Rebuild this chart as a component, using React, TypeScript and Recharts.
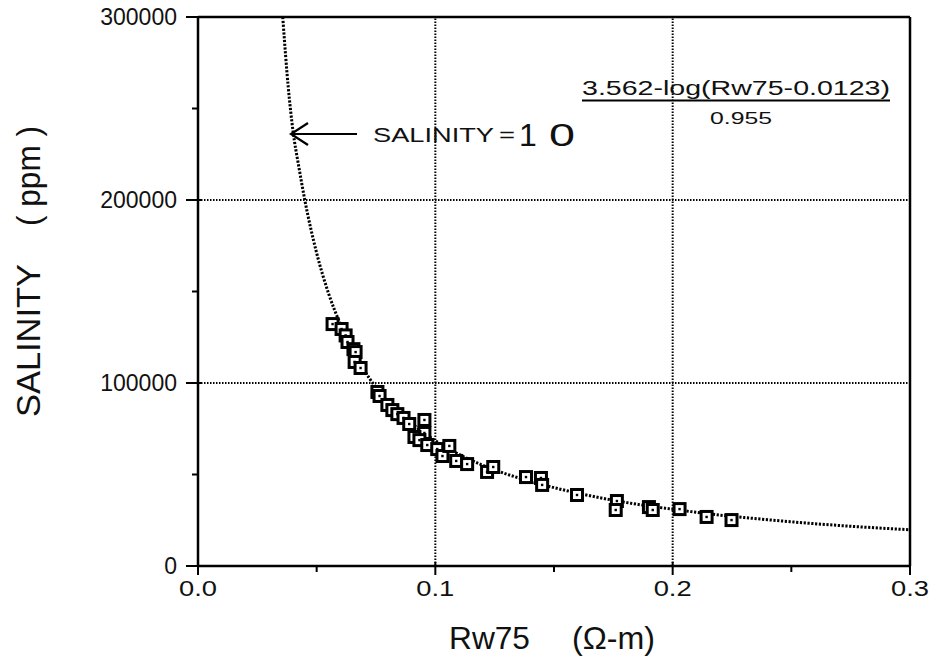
import React from "react";
import {
  ScatterChart,
  Scatter,
  XAxis,
  YAxis,
  ReferenceLine,
} from "recharts";

// Fitted curve (Rw75, salinity ppm)
const curveRw = [0.0357, 0.038, 0.04, 0.0425, 0.045, 0.05, 0.055, 0.06, 0.065, 0.07, 0.075, 0.08, 0.09, 0.1, 0.11, 0.12, 0.14, 0.16, 0.18, 0.2, 0.22, 0.24, 0.26, 0.28, 0.3];
const curveSal = [300000, 262000, 238000, 218000, 200000, 171000, 149000, 132000, 118000, 107000, 97500, 90000, 78000, 68500, 61000, 55000, 46300, 39800, 34800, 31000, 27800, 25300, 23100, 21300, 19800];

// Measured samples (Rw75, salinity ppm)
const sampleRw = [0.0567, 0.0605, 0.0622, 0.063, 0.0655, 0.0664, 0.066, 0.0685, 0.0756, 0.0765, 0.0798, 0.0819, 0.084, 0.0866, 0.089, 0.0954, 0.0954, 0.0912, 0.0933, 0.0966, 0.1008, 0.103, 0.1059, 0.1088, 0.1134, 0.1218, 0.1244, 0.1382, 0.1445, 0.145, 0.1597, 0.1765, 0.176, 0.19, 0.1916, 0.2029, 0.2143, 0.2248];
const sampleSal = [132200, 129500, 126000, 122400, 118500, 116900, 111500, 108200, 95100, 92900, 88000, 85200, 83000, 80900, 77600, 79800, 72700, 70500, 68800, 66100, 63900, 60100, 65600, 57400, 55700, 51400, 54100, 48600, 48100, 44300, 38800, 35500, 30600, 32200, 30600, 31100, 26800, 25100];

const xTicks = [0, 0.05, 0.1, 0.15, 0.2, 0.25, 0.3];
const yTicks = [0, 50000, 100000, 150000, 200000, 250000, 300000];
const gridX = [0.1, 0.2];
const gridY = [100000, 200000];

const curveData = curveRw.map((x, i) => ({ x, y: curveSal[i] }));
const sampleData = sampleRw.map((x, i) => ({ x, y: sampleSal[i] }));

const FONT = "'Liberation Sans', Arial, Helvetica, sans-serif";
const INK = "#111";

const isMajorX = (v: number) => Math.abs(v * 10 - Math.round(v * 10)) < 1e-6;
const isMajorY = (v: number) => v % 100000 === 0;

const XTick = (props: any) => {
  const { x, y, payload } = props;
  const v = payload.value;
  if (!isMajorX(v)) {
    return <line x1={x} x2={x} y1={y} y2={y + 6} stroke="#000" strokeWidth={2} />;
  }
  return (
    <g>
      <line x1={x} x2={x} y1={y - 4} y2={y + 9} stroke="#000" strokeWidth={2} />
      <text
        x={x - 19}
        y={y + 30}
        fontSize={22}
        fontFamily={FONT}
        fill={INK}
        textLength={38}
        lengthAdjust="spacingAndGlyphs"
      >
        {v.toFixed(1)}
      </text>
    </g>
  );
};

const YTick = (props: any) => {
  const { x, y, payload } = props;
  const v = payload.value;
  if (!isMajorY(v)) {
    return <line x1={x - 6} x2={x} y1={y} y2={y} stroke="#000" strokeWidth={2} />;
  }
  return (
    <g>
      <line x1={x - 12} x2={x + 4} y1={y} y2={y} stroke="#000" strokeWidth={2} />
      <text x={x - 21} y={y + 8} textAnchor="end" fontSize={23} fontFamily={FONT} fill={INK}>
        {String(v)}
      </text>
    </g>
  );
};

const SquareMarker = (props: any) => {
  const { cx, cy } = props;
  if (cx == null || cy == null) return null;
  return (
    <g>
      <rect x={cx - 5.5} y={cy - 5.5} width={11} height={11} fill="#fff" stroke="#000" strokeWidth={3} />
      <rect x={cx - 1.2} y={cy - 1.2} width={2.4} height={2.4} fill="#000" />
    </g>
  );
};

const NoMarker = () => <g />;

export default function App() {
  return (
    <div style={{ position: "absolute", left: 0, top: 0, width: 933, height: 669, background: "#fff" }}>
      <ScatterChart
        width={933}
        height={669}
        margin={{ top: 17, right: 23, bottom: 0, left: 0 }}
      >
        <XAxis
          type="number"
          dataKey="x"
          domain={[0, 0.3]}
          ticks={xTicks}
          interval={0}
          height={103}
          tickSize={0}
          tickMargin={0}
          tickLine={false}
          axisLine={{ stroke: "#000", strokeWidth: 2.5 }}
          tick={<XTick />}
          allowDataOverflow
        />
        <YAxis
          type="number"
          dataKey="y"
          domain={[0, 300000]}
          ticks={yTicks}
          interval={0}
          width={198}
          tickSize={0}
          tickMargin={0}
          tickLine={false}
          axisLine={{ stroke: "#000", strokeWidth: 2.5 }}
          tick={<YTick />}
          allowDataOverflow
        />
        {gridX.map((v) => (
          <ReferenceLine key={"gx" + v} x={v} stroke="#000" strokeWidth={2} strokeDasharray="1.5 1.5" />
        ))}
        {gridY.map((v) => (
          <ReferenceLine key={"gy" + v} y={v} stroke="#000" strokeWidth={2} strokeDasharray="1.5 1.5" />
        ))}
        <ReferenceLine y={300000} stroke="#000" strokeWidth={2.5} />
        <ReferenceLine x={0.3} stroke="#000" strokeWidth={2.5} />
        <Scatter
          data={curveData}
          line={{ stroke: "#000", strokeWidth: 3, strokeDasharray: "2.2 1.6" }}
          lineJointType="monotoneX"
          shape={<NoMarker />}
          isAnimationActive={false}
        />
        <Scatter data={sampleData} shape={<SquareMarker />} isAnimationActive={false} />
      </ScatterChart>
      <svg
        width={933}
        height={669}
        style={{ position: "absolute", left: 0, top: 0, pointerEvents: "none" }}
      >
        {/* x axis title */}
        <text x={449} y={649} fontSize={31} fontFamily={FONT} fill={INK} textLength={81} lengthAdjust="spacingAndGlyphs">
          Rw75
        </text>
        <text x={572} y={649} fontSize={31} fontFamily={FONT} fill={INK} textLength={83} lengthAdjust="spacingAndGlyphs">
          {"(\u03A9-m)"}
        </text>
        {/* y axis title */}
        <text
          transform="translate(40,417) rotate(-90)"
          fontSize={33}
          fontFamily={FONT}
          fill={INK}
          textLength={153}
          lengthAdjust="spacingAndGlyphs"
        >
          SALINITY
        </text>
        <text
          transform="translate(40,226) rotate(-90)"
          fontSize={33}
          fontFamily={FONT}
          fill={INK}
          textLength={100}
          lengthAdjust="spacingAndGlyphs"
          xmlSpace="preserve"
        >
          {"( ppm )"}
        </text>
        {/* arrow */}
        <line x1={291} y1={134} x2={357} y2={134} stroke="#000" strokeWidth={2.2} />
        <polyline points="308,123 291,134 308,145" fill="none" stroke="#000" strokeWidth={2.2} />
        <text x={373} y={142} fontSize={21} fontFamily={FONT} fill={INK} textLength={121} lengthAdjust="spacingAndGlyphs">
          SALINITY
        </text>
        <text x={499} y={142} fontSize={21} fontFamily={FONT} fill={INK} textLength={16} lengthAdjust="spacingAndGlyphs">
          =
        </text>
        <text x={519} y={146} fontSize={32} fontFamily={FONT} fill={INK}>
          1
        </text>
        <text x={549} y={146} fontSize={32} fontFamily={FONT} fill={INK} textLength={26} lengthAdjust="spacingAndGlyphs">
          0
        </text>
        {/* formula */}
        <text x={582} y={95} fontSize={20} fontFamily={FONT} fill={INK} textLength={308} lengthAdjust="spacingAndGlyphs">
          3.562-log(Rw75-0.0123)
        </text>
        <line x1={582} x2={890} y1={100.5} y2={100.5} stroke="#000" strokeWidth={1.8} />
        <text x={710} y={124} fontSize={17} fontFamily={FONT} fill={INK} textLength={62} lengthAdjust="spacingAndGlyphs">
          0.955
        </text>
      </svg>
    </div>
  );
}
